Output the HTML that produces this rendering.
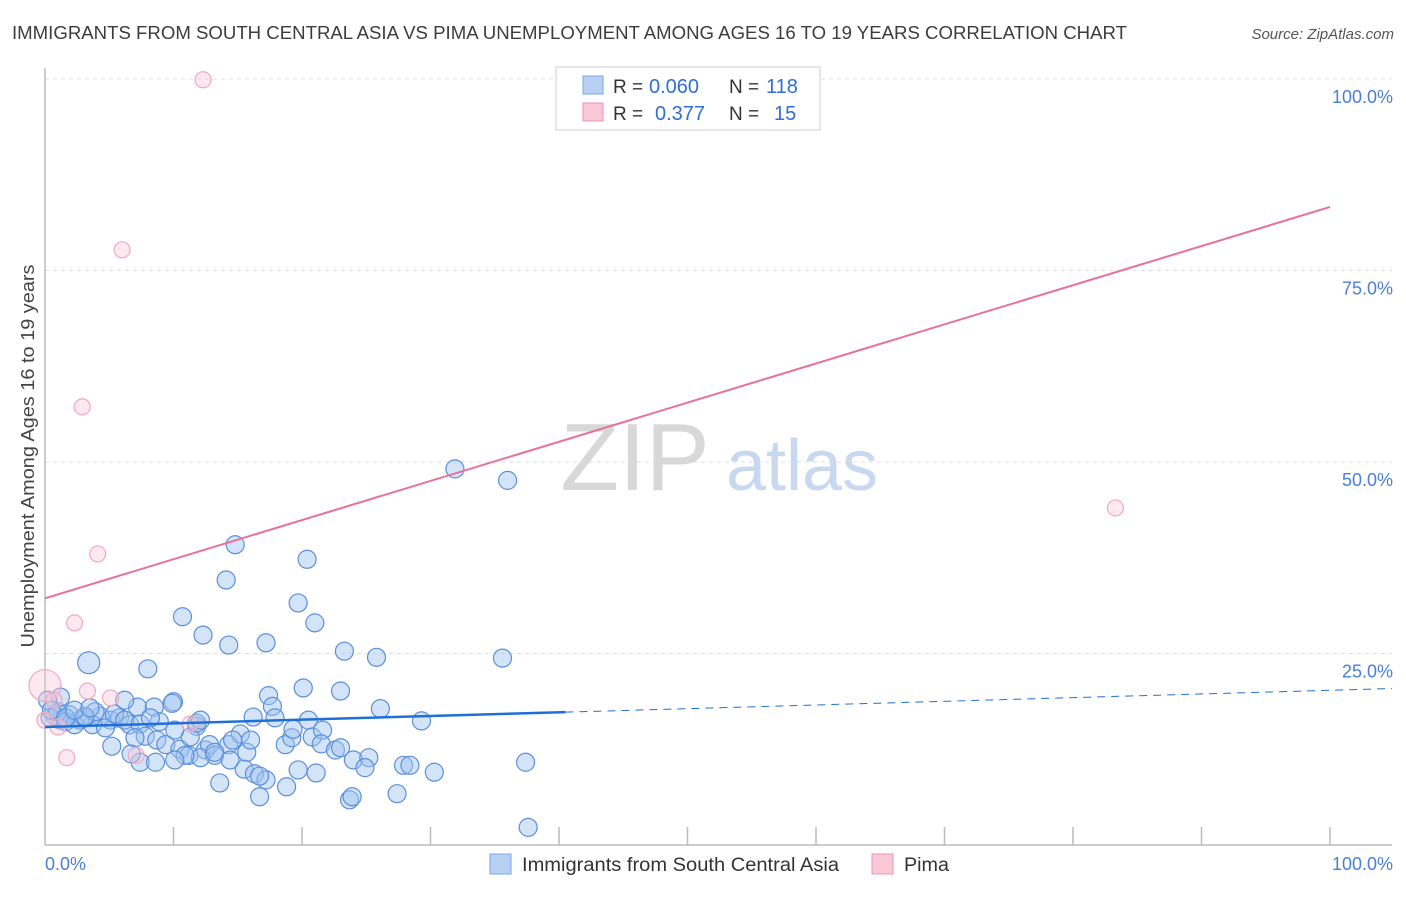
<!DOCTYPE html>
<html><head><meta charset="utf-8"><style>
body{margin:0;background:#fff;font-family:"Liberation Sans",sans-serif;}
svg text{font-family:"Liberation Sans",sans-serif;}
</style></head><body>
<svg id="chart" width="1406" height="892" xmlns="http://www.w3.org/2000/svg">
<text x="12" y="39" font-size="18" fill="#3c3c3c" textLength="1115" lengthAdjust="spacingAndGlyphs">IMMIGRANTS FROM SOUTH CENTRAL ASIA VS PIMA UNEMPLOYMENT AMONG AGES 16 TO 19 YEARS CORRELATION CHART</text>
<text x="1394" y="39" font-size="15" fill="#555" font-style="italic" text-anchor="end">Source: ZipAtlas.com</text>
<g>
<text x="635" y="490" font-size="96" fill="#d8d8d8" font-family="Liberation Serif" text-anchor="middle">ZIP</text>
<text x="802" y="490" font-size="72" fill="#c8d8f0" text-anchor="middle">atlas</text>
</g>
<g id="grid"></g><g id="axes"></g><g id="points"></g><g id="lines"></g>
<text transform="translate(34,456) rotate(-90)" font-size="18" fill="#444" text-anchor="middle" textLength="383" lengthAdjust="spacingAndGlyphs">Unemployment Among Ages 16 to 19 years</text>
<g>
<rect x="556" y="67" width="264" height="63" fill="#fff" stroke="#ccc"/>
<rect x="583" y="76" width="20" height="18" fill="#b8d0f4" stroke="#7aa6e6"/>
<text x="613" y="93" font-size="19" fill="#333">R = </text><text x="649" y="93" font-size="20" fill="#2f6fd6">0.060</text>
<text x="729" y="93" font-size="19" fill="#333">N = </text><text x="766" y="93" font-size="20" fill="#2f6fd6">118</text>
<rect x="583" y="103" width="20" height="18" fill="#f8c8d6" stroke="#ee95b0"/>
<text x="613" y="120" font-size="19" fill="#333">R = </text><text x="655" y="120" font-size="20" fill="#2f6fd6">0.377</text>
<text x="729" y="120" font-size="19" fill="#333">N = </text><text x="774" y="120" font-size="20" fill="#2f6fd6">15</text>
</g>
<g>
<rect x="490" y="854" width="21" height="20" fill="#b8d0f4" stroke="#7aa6e6"/>
<text x="522" y="871" font-size="19" fill="#333" textLength="317" lengthAdjust="spacingAndGlyphs">Immigrants from South Central Asia</text>
<rect x="872" y="854" width="21" height="20" fill="#f8c8d6" stroke="#ee95b0"/>
<text x="904" y="871" font-size="19" fill="#333" textLength="45" lengthAdjust="spacingAndGlyphs">Pima</text>
</g>
</svg>
<script>
const yTicks=[25,50,75,100];
const yTickLabels=["25.0%","50.0%","75.0%","100.0%"];
const xTickLabels=["0.0%","100.0%"];
const blueX=[31.9,36.0,14.8,14.1,20.4,10.7,19.7,21.0,12.3,14.3,17.2,23.3,25.8,35.6,3.4,8.0,20.1,23.0,17.4,26.1,29.3,10.0,7.2,8.5,9.9,17.7,17.9,20.5,16.2,11.8,8.9,5.1,5.8,6.6,4.3,3.7,2.7,1.9,1.2,0.8,0.4,1.0,1.6,2.3,3.1,3.9,4.7,5.4,6.2,7.4,8.2,1.2,0.2,0.5,5.2,7.8,8.7,9.4,10.5,11.2,12.5,12.8,13.2,14.3,15.2,15.7,18.7,19.2,19.3,20.8,21.6,21.5,22.6,24.0,25.2,24.9,27.9,30.3,37.4,15.5,16.3,17.2,16.7,18.8,16.7,23.7,23.9,27.4,37.6,13.6,12.1,10.9,10.1,7.4,6.7,8.6,11.3,11.8,14.6,16.0,19.7,21.1,23.0,28.4,7.0,10.1,12.1,13.2,14.4,6.2,3.1,1.6,2.3,3.5];
const blueY=[49.1,47.6,39.2,34.6,37.3,29.8,31.6,29.0,27.4,26.1,26.4,25.3,24.5,24.4,23.8,23.0,20.5,20.1,19.5,17.8,16.2,18.7,18.0,18.0,18.5,18.1,16.6,16.3,16.7,15.5,16.1,16.3,16.6,15.7,16.8,15.7,16.3,17.0,16.3,16.8,16.6,17.4,16.1,15.7,16.6,17.4,15.3,17.1,16.3,15.8,16.6,19.3,18.9,17.6,12.9,14.2,13.7,13.1,12.5,11.7,12.4,13.1,11.7,13.1,14.5,12.1,13.1,14.0,15.1,14.1,15.0,13.2,12.4,11.1,11.4,10.1,10.4,9.5,10.8,9.9,9.3,8.5,9.0,7.6,6.3,5.9,6.3,6.7,2.3,8.1,11.4,11.7,11.1,10.8,11.9,10.8,14.1,15.9,13.7,13.7,9.8,9.4,12.7,10.4,14.0,15.0,16.3,12.1,11.1,18.9,16.8,16.6,17.6,17.9];
const pinkX=[12.3,6.0,2.9,4.1,2.3,0,3.3,5.1,0.7,11.3,1.0,1.7,7.1,83.3,0];
const pinkY=[99.9,77.7,57.2,38.0,29.0,20.8,20.1,19.2,18.9,15.8,15.4,11.4,11.7,44.0,16.3];
const blueFit=[15.4,20.2];
const blueSolidEnd=40.5;
const pinkFit=[32.2,83.3];
const NS="http://www.w3.org/2000/svg";
const X0=45,X1=1330,Y0=845,Y100=79;
const sx=v=>X0+(X1-X0)*v/100;
const sy=v=>Y0-(Y0-Y100)*v/100;
function mk(tag,attrs,parent){const e=document.createElementNS(NS,tag);for(const k in attrs)e.setAttribute(k,attrs[k]);document.getElementById(parent).appendChild(e);return e;}
yTicks.forEach((t,i)=>{
 const g=mk('line',{x1:45,x2:1392,y1:sy(t),y2:sy(t),stroke:'#ddd','stroke-dasharray':'4,4'},'grid');
 
 
 const l=mk('text',{x:1393,y:sy(t)+24,'font-size':18,fill:'#4a7fd4','text-anchor':'end'},'grid');
 l.textContent=yTickLabels[i];
 
 
});
const ax=mk('line',{x1:45,x2:45,y1:68,y2:845,stroke:'#bbb','stroke-width':1.5},'axes');


const bx=mk('line',{x1:45,x2:1392,y1:845,y2:845,stroke:'#bbb','stroke-width':1.5},'axes');


for(let i=1;i<=10;i++){const t=mk('line',{x1:sx(i*10),x2:sx(i*10),y1:827,y2:845,stroke:'#bbb','stroke-width':1.5},'axes');
 
 }
[[0,'start',45],[100,'end',1393]].forEach((d,i)=>{const t=mk('text',{x:d[2],y:870,'font-size':18,fill:'#4a7fd4','text-anchor':d[1]},'axes');t.textContent=xTickLabels[i];
 
 });
blueX.forEach((x,i)=>{const c=mk('circle',{cx:sx(x),cy:sy(blueY[i]),r:(i==14?11:9),fill:'rgba(160,195,240,0.45)',stroke:'#5b8fdc','stroke-width':1.2},'points');
 
 });
pinkX.forEach((x,i)=>{const c=mk('circle',{cx:sx(x),cy:sy(pinkY[i]),r:(i==5?16:8),fill:'rgba(248,200,216,0.4)',stroke:'#f0a8c0','stroke-width':1.2},'points');
 
 });
const bf=x=>blueFit[0]+(blueFit[1]-blueFit[0])*x/100;
const pf=x=>pinkFit[0]+(pinkFit[1]-pinkFit[0])*x/100;
const l1=mk('line',{x1:sx(0),y1:sy(bf(0)),x2:sx(blueSolidEnd),y2:sy(bf(blueSolidEnd)),stroke:'#1f6fd8','stroke-width':2.5},'lines');


const l2=mk('line',{x1:sx(blueSolidEnd),y1:sy(bf(blueSolidEnd)),x2:1392,y2:sy(bf(104.8)),stroke:'#1f6fd8','stroke-width':1,'stroke-dasharray':'8,6'},'lines');


const l3=mk('line',{x1:sx(0),y1:sy(pf(0)),x2:sx(100),y2:sy(pf(100)),stroke:'#e8709a','stroke-width':2},'lines');


</script>
</body></html>
